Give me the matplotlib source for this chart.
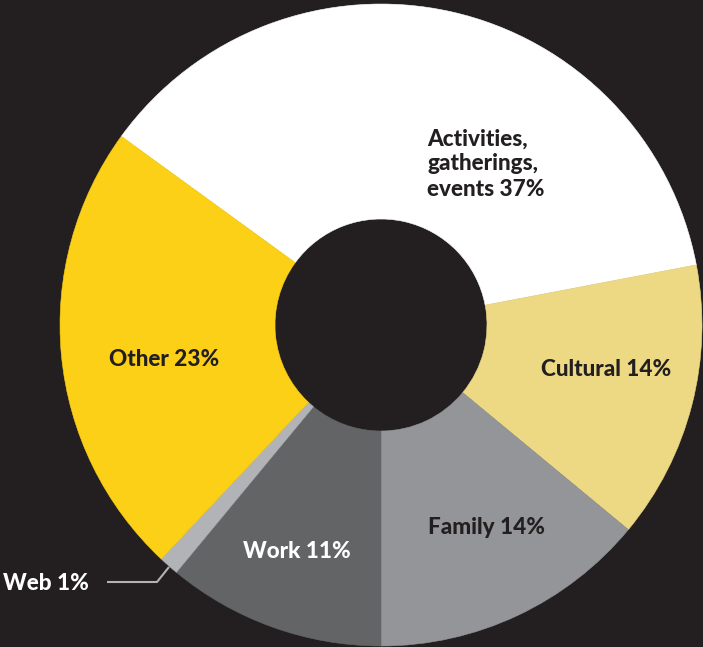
import matplotlib
matplotlib.use("Agg")
import matplotlib.pyplot as plt

categories = ["Activities, gatherings, events", "Cultural", "Family", "Work", "Web", "Other"]
values = [37, 14, 14, 11, 1, 23]
label_texts = ["Activities,\ngatherings,\nevents 37%", "Cultural 14%", "Family 14%",
               "Work 11%", "Web 1%", "Other 23%"]
colors = ["#FFFFFF", "#EDD984", "#939598", "#636466", "#B1B3B6", "#FBD016"]

BG = "#231F20"
W, H = 703, 647
fig = plt.figure(figsize=(W / 100, H / 100), dpi=100, facecolor=BG)
ax = fig.add_axes([0, 0, 1, 1])
ax.set_facecolor(BG)

cx, cy, R = 381, H - 325, 321
ax.pie(values, colors=colors, startangle=144, counterclock=False,
       center=(cx, cy), radius=R, frame=True,
       wedgeprops=dict(width=R - 106, linewidth=0.4))
for w in ax.patches:
    w.set_edgecolor(w.get_facecolor())
ax.set_xlim(0, W)
ax.set_ylim(0, H)
ax.axis("off")

font = dict(family=["Lato", "DejaVu Sans"], weight="black", fontsize=16.2)
dark = "#231F20"

def y(py):
    return H - py

ax.text(427, y(164), label_texts[0], ha="left", va="center", color=dark,
        linespacing=1.25, **font)
ax.text(606, y(369), label_texts[1], ha="center", va="center", color=dark, **font)
ax.text(486, y(527), label_texts[2], ha="center", va="center", color=dark, **font)
ax.text(297, y(551), label_texts[3], ha="center", va="center", color="white", **font)
ax.text(164, y(360), label_texts[5], ha="center", va="center", color=dark, **font)
ax.text(3, y(584), label_texts[4], ha="left", va="center", color="white", **font)
ax.plot([107, 157, 169], [y(582), y(582), y(567)], color="#B1B3B6", lw=1.5,
        solid_capstyle="butt")

fig.savefig("out.png", dpi=100, facecolor=BG)
